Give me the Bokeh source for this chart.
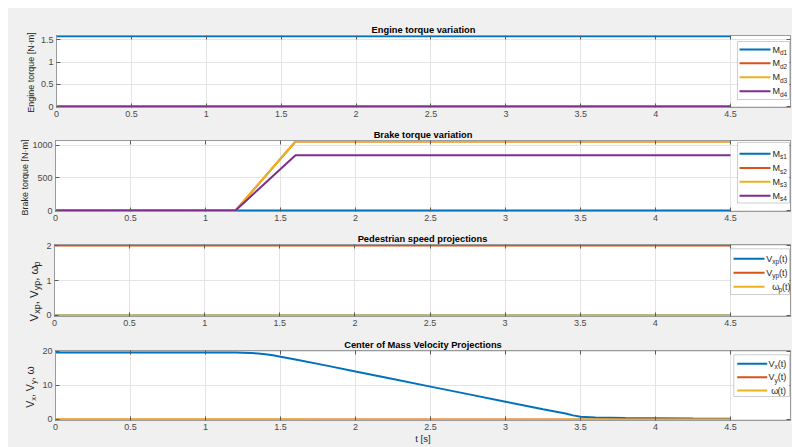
from bokeh.plotting import figure
from bokeh.models import Range1d, FixedTicker, LinearAxis, Label, BoxAnnotation, CustomJSTickFormatter, Spacer
from bokeh.layouts import column, row
from bokeh.embed import file_html
from bokeh.resources import INLINE

# ---------------- data ----------------
t_engine = [0.0, 4.5]
Md1 = [1.585, 1.585]
Md2 = [0.0, 0.0]
Md3 = [0.0, 0.0]
Md4 = [0.0, 0.0]

t_brake = [0.0, 1.2, 1.6, 4.5]
Ms1 = [0, 0, 0, 0]
Ms2 = [0, 0, 1060, 1060]
Ms3 = [0, 0, 1060, 1060]
Ms4 = [0, 0, 850, 850]

t_ped = [0.0, 4.5]
Vxp = [0, 0]
Vyp = [2, 2]
wp = [0, 0]

t_com = [0.0, 0.5, 1.0, 1.2, 1.3, 1.35, 1.4, 1.45, 1.5, 1.6, 1.8, 2.0, 2.25, 2.5,
         2.75, 3.0, 3.25, 3.4, 3.45, 3.5, 3.6, 3.8, 4.0, 4.25, 4.5]
Vx = [19.6, 19.6, 19.6, 19.55, 19.45, 19.3, 19.05, 18.75, 18.35, 17.5, 15.8, 14.0, 11.8, 9.6,
      7.4, 5.2, 3.0, 1.75, 1.2, 0.8, 0.6, 0.45, 0.35, 0.25, 0.2]
Vy = [0.0] * 25
w = [0.0, 0.0, 0.0, 0.0, 0.0, 0.0, 0.0, 0.0, 0.0, 0.0, -0.05, -0.05, -0.08, -0.1,
     -0.1, -0.08, -0.05, -0.03, 0.0, 0.0, 0.0, 0.0, 0.0, 0.0, 0.0]

x_ticks = [0, 0.5, 1, 1.5, 2, 2.5, 3, 3.5, 4, 4.5]
x_tick_labels = ["0", "0.5", "1", "1.5", "2", "2.5", "3", "3.5", "4", "4.5"]
engine_ticks = [0, 0.5, 1, 1.5]
engine_tick_labels = ["0", "0.5", "1", "1.5"]
brake_ticks = [0, 500, 1000]
brake_tick_labels = ["0", "500", "1000"]
ped_ticks = [0, 1, 2]
ped_tick_labels = ["0", "1", "2"]
com_ticks = [0, 10, 20]
com_tick_labels = ["0", "10", "20"]

titles = ["Engine torque variation", "Brake torque variation",
          "Pedestrian speed projections", "Center of Mass Velocity Projections"]
x_label = "t [s]"

COLORS = ["#0072BD", "#D95319", "#EDB120", "#7E2F8E"]
FONT = "Liberation Sans"
BG = "#f0f0f0"

# ---------------- helpers ----------------
CW = {' ': .278, ',': .278, '(': .333, ')': .333, '[': .278, ']': .278, '\u00b7': .278,
      'V': .667, 'M': .833, 'N': .722, 'E': .667, 'B': .722,
      'a': .556, 'd': .556, 'e': .556, 'g': .556, 'i': .222, 'k': .5, 'm': .833, 'n': .556,
      'o': .556, 'p': .556, 'q': .556, 'r': .333, 's': .5, 't': .278, 'u': .556, 'v': .5,
      'x': .5, 'y': .5, '\u03c9': .69}


def tw(s, size):
    return sum(CW.get(ch, .556) for ch in s) * size


TOTAL_W = 784
FRAME_LEFT = 45
BR = 2


def add_text(p, x, y, text, size, bold=False, angle=0, align="left", color="#262626"):
    p.add_layout(Label(x=x, y=y, x_units="canvas", y_units="canvas", text=text,
                       text_font=FONT, text_font_size=f"{size}px",
                       text_font_style="bold" if bold else "normal",
                       angle=angle, angle_units="deg", text_align=align,
                       text_baseline="middle", text_color=color))


def rich_h(p, x, y, parts, size, sub_size):
    cx = x
    for txt, sub in parts:
        s = sub_size if sub else size
        add_text(p, cx, y + (3 if sub else 0), txt, s)
        cx += tw(txt, s)


def rich_v(p, x, yc, parts, size, sub_size, shift=3.5):
    L = sum(tw(t, sub_size if s else size) for t, s in parts)
    cy = yc + L / 2
    for txt, sub in parts:
        s = sub_size if sub else size
        add_text(p, x + (shift if sub else 0), cy, txt, s, angle=90)
        cy -= tw(txt, s)


def style_axis(ax, ticks, labels, hide=False):
    ax.ticker = FixedTicker(ticks=ticks)
    ax.axis_line_color = "#9a9a9a"
    ax.major_tick_line_color = "#5a5a5a"
    ax.major_tick_in = 4
    ax.major_tick_out = 0
    ax.minor_tick_line_color = None
    ax.major_label_text_font = FONT
    if hide:
        ax.formatter = CustomJSTickFormatter(code="return ''")
        ax.major_label_text_font_size = "0px"
        ax.major_label_standoff = 0
    else:
        ax.major_label_overrides = dict(zip(ticks, labels))
        ax.major_label_text_font_size = "9px"
        ax.major_label_text_color = "#4a4a4a"
        ax.major_label_standoff = 3


def side_fig(width, h):
    s = figure(width=width, height=h, x_axis_type=None, y_axis_type=None, title=None,
               output_backend="svg", toolbar_location=None, min_border=0,
               x_range=Range1d(0, 1), y_range=Range1d(0, 1),
               background_fill_color=BG, border_fill_color=BG, outline_line_color=None)
    s.frame_align = False
    s.xgrid.visible = False
    s.ygrid.visible = False
    return s


def make_fig(sw, h, top, bottom, y0, y1, yticks, ylabels, title):
    p = figure(width=TOTAL_W - sw, height=h, x_range=Range1d(0, 4.9), y_range=Range1d(y0, y1),
               output_backend="svg", toolbar_location=None,
               min_border_left=FRAME_LEFT - sw, min_border_right=BR,
               min_border_top=top, min_border_bottom=bottom,
               background_fill_color="white", border_fill_color=BG,
               outline_line_color="#9a9a9a")
    p.title.text = title
    p.title.align = "center"
    p.title.text_font = FONT
    p.title.text_font_size = "9.3px"
    p.title.text_font_style = "bold"
    p.title.text_color = "#000000"
    p.title.standoff = 2
    bottom_axis = p.below[0]
    style_axis(bottom_axis, x_ticks, x_tick_labels)
    style_axis(p.left[0], yticks, ylabels)
    ta = LinearAxis()
    style_axis(ta, x_ticks, x_tick_labels, hide=True)
    p.add_layout(ta, "above")
    ra = LinearAxis()
    style_axis(ra, yticks, ylabels, hide=True)
    p.add_layout(ra, "right")
    p.xgrid.ticker = FixedTicker(ticks=x_ticks)
    p.ygrid.ticker = FixedTicker(ticks=yticks)
    for g in (p.xgrid, p.ygrid):
        g.grid_line_color = "#e4e4e4"
        g.grid_line_width = 1
    return p, bottom_axis


def add_legend(p, top, box, sw, rows, entries, size=9, sub_size=6.5):
    XR = p.width - BR
    l, r, t, b = box
    p.add_layout(BoxAnnotation(left=XR + l, right=XR + r, top=top + t, bottom=top + b,
                               left_units="canvas", right_units="canvas",
                               top_units="canvas", bottom_units="canvas",
                               fill_color="white", fill_alpha=1.0,
                               line_color="#5e5e5e", line_width=1))
    for ry, (col, tx, parts) in zip(rows, entries):
        p.add_layout(BoxAnnotation(left=XR + sw[0], right=XR + sw[1],
                                   top=top + ry - 1, bottom=top + ry + 1,
                                   left_units="canvas", right_units="canvas",
                                   top_units="canvas", bottom_units="canvas",
                                   fill_color=col, fill_alpha=1.0, line_color=None))
        rich_h(p, XR + tx, top + ry, parts, size, sub_size)


# ---------------- row 1: engine torque ----------------
H1, T1, B1, S1 = 115, 27, 16, 29
p1, _ = make_fig(S1, H1, T1, B1, -0.02, 1.6, engine_ticks, engine_tick_labels, titles[0])
for ys, c in zip([Md1, Md2, Md3, Md4], COLORS):
    p1.line(t_engine, ys, line_color=c, line_width=2)
add_legend(p1, T1, (-53, -1, 6, 64), (-51, -20), [14, 27.7, 41.7, 55.7],
           [(COLORS[0], -18, [("M", 0), ("d1", 1)]),
            (COLORS[1], -18, [("M", 0), ("d2", 1)]),
            (COLORS[2], -18, [("M", 0), ("d3", 1)]),
            (COLORS[3], -18, [("M", 0), ("d4", 1)])])
s1 = side_fig(S1, H1)
add_text(s1, 22, T1 + 37, "Engine torque [N\u00b7m]", 9, angle=90, align="center")

# ---------------- row 2: brake torque ----------------
H2, T2, B2, S2 = 105, 17, 17, 21
p2, _ = make_fig(S2, H2, T2, B2, -15, 1075, brake_ticks, brake_tick_labels, titles[1])
for ys, c in zip([Ms1, Ms2, Ms3, Ms4], COLORS):
    p2.line(t_brake, ys, line_color=c, line_width=2)
add_legend(p2, T2, (-53, -1, 2, 62.5), (-51, -20), [13.3, 27.5, 41.3, 55.3],
           [(COLORS[0], -18, [("M", 0), ("s1", 1)]),
            (COLORS[1], -18, [("M", 0), ("s2", 1)]),
            (COLORS[2], -18, [("M", 0), ("s3", 1)]),
            (COLORS[3], -18, [("M", 0), ("s4", 1)])])
s2 = side_fig(S2, H2)
add_text(s2, 16, T2 + 37, "Brake torque [N\u00b7m]", 9, angle=90, align="center")

# ---------------- row 3: pedestrian speed ----------------
H3, T3, B3, S3 = 105, 16, 17, 35
p3, _ = make_fig(S3, H3, T3, B3, -0.03, 2.03, ped_ticks, ped_tick_labels, titles[2])
for ys, c in zip([Vxp, Vyp, wp], COLORS):
    p3.line(t_ped, ys, line_color=c, line_width=2)
add_legend(p3, T3, (-60, -1, 4.3, 50), (-57, -26), [14.3, 28.3, 42.3],
           [(COLORS[0], -24.3, [("V", 0), ("xp", 1), ("(t)", 0)]),
            (COLORS[1], -24.3, [("V", 0), ("yp", 1), ("(t)", 0)]),
            (COLORS[2], -18.3, [("\u03c9", 0), ("p", 1), ("(t)", 0)])])
s3 = side_fig(S3, H3)
rich_v(s3, 25, T3 + 47, [("V", 0), ("xp", 1), (", V", 0), ("yp", 1), (", \u03c9", 0), ("p", 1)], 11.5, 9)

# ---------------- row 4: CoM velocity ----------------
H4, T4, B4, S4 = 114, 17, 27, 31
p4, bx4 = make_fig(S4, H4, T4, B4, -0.3, 20.15, com_ticks, com_tick_labels, titles[3])
for ys, c in zip([Vx, Vy, w], COLORS):
    p4.line(t_com, ys, line_color=c, line_width=2)
bx4.axis_label = x_label
bx4.axis_label_standoff = 0
bx4.axis_label_text_font = FONT
bx4.axis_label_text_font_size = "9.5px"
bx4.axis_label_text_font_style = "normal"
bx4.axis_label_text_color = "#262626"
add_legend(p4, T4, (-56.7, -1, 4.3, 46), (-53.3, -23.3), [13.3, 26.7, 40],
           [(COLORS[0], -22, [("V", 0), ("x", 1), ("(t)", 0)]),
            (COLORS[1], -22, [("V", 0), ("y", 1), ("(t)", 0)]),
            (COLORS[2], -19.3, [("\u03c9", 0), ("(t)", 0)])])
s4 = side_fig(S4, H4)
rich_v(s4, 21, T4 + 37, [("V", 0), ("x", 1), (", V", 0), ("y", 1), (", \u03c9", 0)], 10.5, 7.5)

rows = [row(s, p, spacing=0, styles={"background-color": BG})
        for s, p in [(s1, p1), (s2, p2), (s3, p3), (s4, p4)]]
body = column(*rows, spacing=0, styles={"background-color": BG})
layout = column(Spacer(width=792, height=8),
                row(Spacer(width=8, height=439), body, spacing=0), spacing=0)
open("out.html", "w").write(file_html(layout, INLINE))
